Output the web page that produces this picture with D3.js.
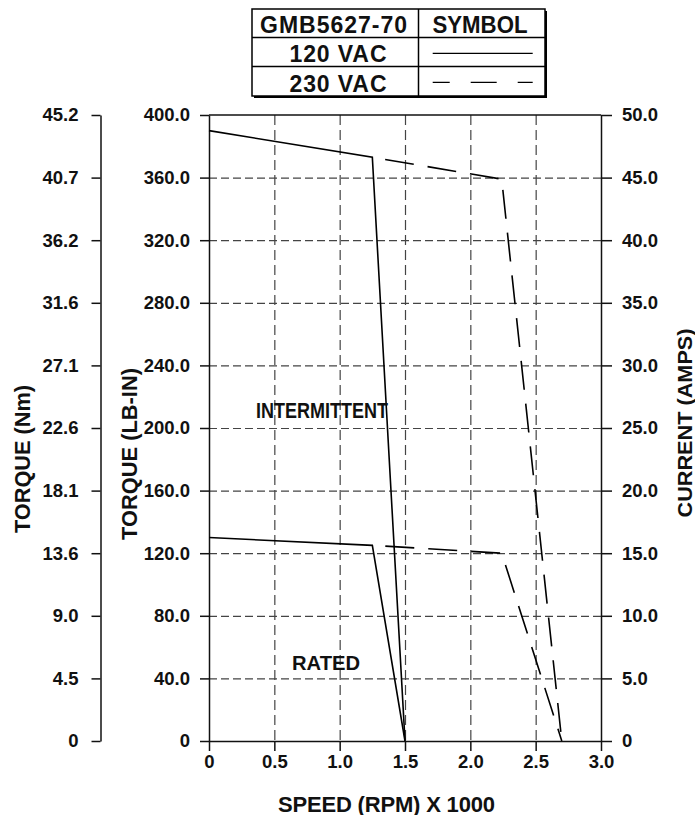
<!DOCTYPE html>
<html>
<head>
<meta charset="utf-8">
<script src="https://cdn.jsdelivr.net/npm/d3@7"></script>
<style>
    body { margin: 0; background: #fff; }
    text { font-family: "Liberation Sans", Arial, sans-serif; font-weight: bold; fill: #111; }
</style>
</head>
<body>
<div id="canvas"></div>
<script>
// axis ticks / labels
var speedTicks = [0, 0.5, 1.0, 1.5, 2.0, 2.5, 3.0];
var speedLabels = ["0", "0.5", "1.0", "1.5", "2.0", "2.5", "3.0"];
var torqueTicks = [0, 40, 80, 120, 160, 200, 240, 280, 320, 360, 400];
var torqueLabels = ["0", "40.0", "80.0", "120.0", "160.0", "200.0", "240.0", "280.0", "320.0", "360.0", "400.0"];
var nmLabels = ["0", "4.5", "9.0", "13.6", "18.1", "22.6", "27.1", "31.6", "36.2", "40.7", "45.2"];
var ampLabels = ["0", "5.0", "10.0", "15.0", "20.0", "25.0", "30.0", "35.0", "40.0", "45.0", "50.0"];

// curves (speed x1000, torque lb-in)
var speed120 = [0, 1.25, 1.5];
var intermittent120 = [390, 373, 0];
var rated120 = [130, 125, 0];
var speed230 = [1.25, 2.24, 2.7];
var intermittent230 = [373, 359, 0];
var rated230 = [125, 120, 0];

// legend
var legendHead = ["GMB5627-70", "SYMBOL"];
var legendRows = ["120 VAC", "230 VAC"];

var width = 695, height = 815;

var svg = d3.select("#canvas").append("svg")
    .attr("width", width)
    .attr("height", height);

var x = d3.scaleLinear().domain([0, 3]).range([209, 601]);
var y = d3.scaleLinear().domain([0, 400]).range([741, 115]);

// grid
svg.append("g").selectAll("line")
    .data(torqueTicks.slice(1, -1))
    .enter().append("line")
    .attr("x1", x(0)).attr("x2", x(3))
    .attr("y1", function(d) { return y(d) + 0.5; })
    .attr("y2", function(d) { return y(d) + 0.5; })
    .style("stroke", "#444").style("stroke-width", 1.2).style("stroke-dasharray", "8,4");

svg.append("g").selectAll("line")
    .data(speedTicks.slice(1, -1))
    .enter().append("line")
    .attr("y1", y(400)).attr("y2", y(0))
    .attr("x1", function(d) { return x(d) + 0.5; })
    .attr("x2", function(d) { return x(d) + 0.5; })
    .style("stroke", "#444").style("stroke-width", 1.2).style("stroke-dasharray", "10,5");

// top frame line
svg.append("line")
    .attr("x1", x(0)).attr("x2", x(3))
    .attr("y1", y(400)).attr("y2", y(400))
    .style("stroke", "#111").style("stroke-width", 1.5);

function styleAxis(g) {
    g.selectAll("path, line").style("stroke", "#111").style("stroke-width", 1.5);
    g.selectAll("text").style("font-size", "18.5px").style("font-family", null).attr("fill", "#111");
}

// main torque axis
svg.append("g")
    .attr("transform", "translate(" + x(0) + ",0)")
    .call(d3.axisLeft(y).tickValues(torqueTicks)
        .tickFormat(function(d, i) { return torqueLabels[i]; })
        .tickSize(9).tickPadding(10).tickSizeOuter(0))
    .call(styleAxis);

// Nm axis
svg.append("g")
    .attr("transform", "translate(100.5,0)")
    .call(d3.axisLeft(y).tickValues(torqueTicks)
        .tickFormat(function(d, i) { return nmLabels[i]; })
        .tickSize(9).tickPadding(13).tickSizeOuter(0))
    .call(styleAxis);

// current axis
svg.append("g")
    .attr("transform", "translate(" + x(3) + ",0)")
    .call(d3.axisRight(y).tickValues(torqueTicks)
        .tickFormat(function(d, i) { return ampLabels[i]; })
        .tickSize(11).tickPadding(10).tickSizeOuter(0))
    .call(styleAxis);

// speed axis
svg.append("g")
    .attr("transform", "translate(0," + y(0) + ")")
    .call(d3.axisBottom(x).tickValues(speedTicks)
        .tickFormat(function(d, i) { return speedLabels[i]; })
        .tickSize(10).tickPadding(4).tickSizeOuter(0))
    .call(styleAxis);

// curves
var line = d3.line()
    .x(function(d) { return x(d[0]); })
    .y(function(d) { return y(d[1]); });

var curves = [
    { pts: d3.zip(speed120, intermittent120), dash: null },
    { pts: d3.zip(speed120, rated120), dash: null },
    { pts: d3.zip(speed230, intermittent230), dash: "29,14" },
    { pts: d3.zip(speed230, rated230), dash: "29,14" }
];

svg.append("g").selectAll("path")
    .data(curves)
    .enter().append("path")
    .attr("d", function(d) { return line(d.pts); })
    .style("fill", "none")
    .style("stroke", "#000")
    .style("stroke-width", 1.6)
    .style("stroke-dasharray", function(d) { return d.dash; })
    .style("stroke-dashoffset", function(d) { return d.dash ? 30 : null; });

// region labels
svg.append("text")
    .attr("x", 256).attr("y", 418)
    .attr("textLength", 132).attr("lengthAdjust", "spacingAndGlyphs")
    .style("font-size", "22px")
    .text("INTERMITTENT");

svg.append("text")
    .attr("x", 292).attr("y", 670)
    .attr("textLength", 68).attr("lengthAdjust", "spacingAndGlyphs")
    .style("font-size", "21px")
    .text("RATED");

// axis titles
function vTitle(cx, cy, len, size, label) {
    svg.append("text")
        .attr("transform", "translate(" + cx + "," + cy + ") rotate(-90)")
        .attr("text-anchor", "middle")
        .attr("textLength", len)
        .attr("lengthAdjust", "spacingAndGlyphs")
        .style("font-size", size + "px")
        .text(label);
}
vTitle(29.5, 459, 148, 22, "TORQUE (Nm)");
vTitle(136.5, 454, 172, 22, "TORQUE (LB-IN)");
vTitle(691.5, 423, 189, 21, "CURRENT (AMPS)");

svg.append("text")
    .attr("x", 386.5).attr("y", 811.5)
    .attr("text-anchor", "middle")
    .attr("textLength", 217)
    .style("font-size", "22px")
    .text("SPEED (RPM) X 1000");

// legend table
var lg = svg.append("g");
lg.append("rect")
    .attr("x", 254).attr("y", 11).attr("width", 293).attr("height", 87)
    .style("fill", "#000");
lg.append("rect")
    .attr("x", 252).attr("y", 9).attr("width", 293).attr("height", 87)
    .style("fill", "#fff").style("stroke", "#000").style("stroke-width", 1.5);
lg.append("line")
    .attr("x1", 418.5).attr("x2", 418.5).attr("y1", 9).attr("y2", 96)
    .style("stroke", "#000").style("stroke-width", 1.5);
lg.selectAll(".sep")
    .data([37.5, 66.5])
    .enter().append("line")
    .attr("x1", 252).attr("x2", 545)
    .attr("y1", function(d) { return d; }).attr("y2", function(d) { return d; })
    .style("stroke", "#000").style("stroke-width", 1.5);

lg.append("text").attr("x", 333.5).attr("y", 33.3)
    .attr("text-anchor", "middle").attr("textLength", 147)
    .style("font-size", "23px").text(legendHead[0]);
lg.append("text").attr("x", 480).attr("y", 33.3)
    .attr("text-anchor", "middle").attr("textLength", 95)
    .attr("lengthAdjust", "spacingAndGlyphs")
    .style("font-size", "23px").text(legendHead[1]);

lg.selectAll(".row")
    .data(legendRows)
    .enter().append("text")
    .attr("x", 338)
    .attr("y", function(d, i) { return 61.7 + i * 30; })
    .attr("text-anchor", "middle").attr("textLength", 97)
    .style("font-size", "23px")
    .text(function(d) { return d; });

lg.selectAll(".sym")
    .data(["", "26,21"])
    .enter().append("line")
    .attr("x1", 432.7).attr("x2", 532.7)
    .attr("y1", function(d, i) { return 53.3 + i * 29; })
    .attr("y2", function(d, i) { return 53.3 + i * 29; })
    .style("stroke", "#000").style("stroke-width", 1.2)
    .style("stroke-dasharray", function(d) { return d || null; })
    .style("stroke-dashoffset", function(d) { return d ? 9 : null; });
</script>
</body>
</html>
